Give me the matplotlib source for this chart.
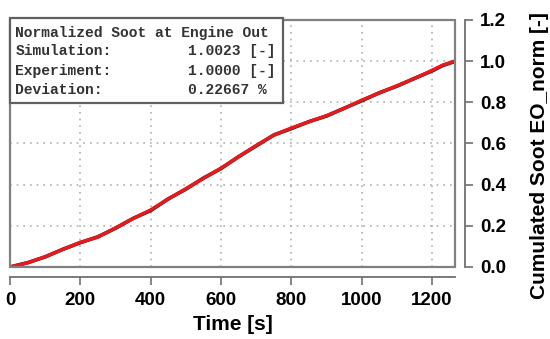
import matplotlib
matplotlib.use("Agg")
import matplotlib.pyplot as plt
from matplotlib.patches import Rectangle

# Zeit [s] und kumulierter Russ (normiert)
time_s = [0, 50, 100, 150, 200, 250, 300, 350, 400, 450, 500, 550, 600, 650,
          700, 750, 800, 850, 900, 950, 1000, 1050, 1100, 1150, 1200, 1230, 1265]
soot_sim = [0, 0.02, 0.05, 0.085, 0.12, 0.145, 0.19, 0.235, 0.277, 0.33, 0.38,
            0.43, 0.48, 0.535, 0.59, 0.64, 0.675, 0.705, 0.735, 0.77, 0.81,
            0.845, 0.88, 0.915, 0.955, 0.98, 1.0]
soot_exp = [0, 0.021, 0.049, 0.086, 0.118, 0.147, 0.188, 0.236, 0.274, 0.331, 0.378,
            0.432, 0.478, 0.536, 0.588, 0.641, 0.672, 0.706, 0.733, 0.771, 0.807,
            0.846, 0.878, 0.916, 0.952, 0.978, 0.998]

xticks = [0, 200, 400, 600, 800, 1000, 1200]
yticks = [0.0, 0.2, 0.4, 0.6, 0.8, 1.0, 1.2]

info_title = "Normalized Soot at Engine Out"
info_rows = [("Simulation:", "1.0023 [-]"),
             ("Experiment:", "1.0000 [-]"),
             ("Deviation:", "0.22667 %")]

fig = plt.figure(figsize=(5.5, 3.39), dpi=100)
ax = fig.add_axes([0.0182, 0.2124, 0.809, 0.729])

ax.plot(time_s, soot_exp, color="#202020", lw=2.6, zorder=3)
ax.plot(time_s, soot_sim, color="#e8191c", lw=2.5, zorder=4)

ax.set_xlim(0, 1265)
ax.set_ylim(0, 1.2)
ax.set_xticks(xticks)
ax.set_yticks(yticks)
ax.set_yticklabels([f"{v:.1f}" for v in yticks])

ax.grid(True, color="#b0b0b0", linestyle=(0, (1, 3)), lw=1.2)

# Rahmen um die Plotflaeche
for s in ax.spines.values():
    s.set_visible(False)
ax.add_patch(Rectangle((0, 0), 1, 1, transform=ax.transAxes, fill=False,
                       ec="#808080", lw=1.6, zorder=5, clip_on=False))

# Abgesetzte Achsen unten und rechts
ax.spines["bottom"].set_visible(True)
ax.spines["bottom"].set_position(("outward", 7))
ax.spines["bottom"].set_bounds(0, 1265)
ax.spines["bottom"].set_color("#707070")
ax.spines["bottom"].set_linewidth(1.3)
ax.spines["right"].set_visible(True)
ax.spines["right"].set_position(("outward", 7))
ax.spines["right"].set_bounds(0, 1.2)
ax.spines["right"].set_color("#707070")
ax.spines["right"].set_linewidth(1.3)

ax.yaxis.tick_right()
ax.yaxis.set_label_position("right")
ax.tick_params(axis="both", direction="out", length=6, width=1.2, color="#707070",
               labelsize=13.5, pad=5)
for lab in ax.get_xticklabels() + ax.get_yticklabels():
    lab.set_fontweight("bold")
    lab.set_family("Liberation Sans")

ax.set_xlabel("Time [s]", fontsize=15, fontweight="bold", family="Liberation Sans",
              labelpad=4)
ax.set_ylabel("Cumulated Soot EO_norm [-]", fontsize=15, fontweight="bold",
              family="Liberation Sans")
ax.yaxis.set_label_coords(1.168, 0.45)

# Infobox
ax.add_patch(Rectangle((0, 0.664), 0.613, 0.345, transform=ax.transAxes,
                       fc="white", ec="#606060", lw=1.6, zorder=6, clip_on=False))
mono = dict(family="Liberation Mono", fontsize=10.5, fontweight="bold",
            color="#333333", transform=ax.transAxes, zorder=7, va="center")
ax.text(0.012, 0.948, info_title, **mono)
for i, (k, v) in enumerate(info_rows):
    yy = 0.872 - i * 0.077
    ax.text(0.012, yy, k, **mono)
    ax.text(0.40, yy, v, **mono)

fig.savefig("out.png", dpi=100)
